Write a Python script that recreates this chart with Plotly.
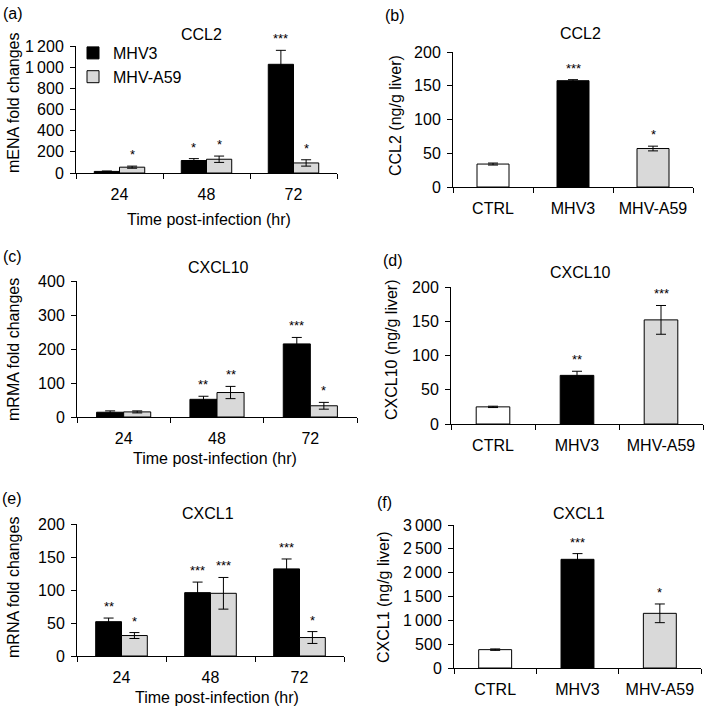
import plotly.graph_objects as go

# ---------------- data ----------------
TIMES = ["24", "48", "72"]
GROUPS = ["CTRL", "MHV3", "MHV-A59"]

# (a) CCL2 mRNA fold changes
CCL2_MRNA_MHV3 = [15, 118, 1027]
CCL2_MRNA_MHV3_ERR = [4, 18, 132]
CCL2_MRNA_MHV3_SIG = ["", "*", "***"]
CCL2_MRNA_A59 = [55, 130, 95]
CCL2_MRNA_A59_ERR = [10, 30, 30]
CCL2_MRNA_A59_SIG = ["*", "*", "*"]
CCL2_MRNA_TICKS = [0, 200, 400, 600, 800, 1000, 1200]
CCL2_MRNA_TICKTEXT = ["0", "200", "400", "600", "800", "1\u2009000", "1\u2009200"]

# (b) CCL2 protein
CCL2_PROT = [34, 157.5, 57]
CCL2_PROT_ERR = [1.5, 1.5, 3.5]
CCL2_PROT_SIG = ["", "***", "*"]
CCL2_PROT_TICKS = [0, 50, 100, 150, 200]

# (c) CXCL10 mRNA fold changes
CXCL10_MRNA_MHV3 = [14, 52, 215]
CXCL10_MRNA_MHV3_ERR = [4, 9, 19]
CXCL10_MRNA_MHV3_SIG = ["", "**", "***"]
CXCL10_MRNA_A59 = [15, 72, 33]
CXCL10_MRNA_A59_ERR = [3, 18, 10]
CXCL10_MRNA_A59_SIG = ["", "**", "*"]
CXCL10_MRNA_TICKS = [0, 100, 200, 300, 400]

# (d) CXCL10 protein
CXCL10_PROT = [25, 71, 152]
CXCL10_PROT_ERR = [1, 6, 21]
CXCL10_PROT_SIG = ["", "**", "***"]
CXCL10_PROT_TICKS = [0, 50, 100, 150, 200]

# (e) CXCL1 mRNA fold changes
CXCL1_MRNA_MHV3 = [52, 96, 132]
CXCL1_MRNA_MHV3_ERR = [5.5, 16, 15]
CXCL1_MRNA_MHV3_SIG = ["**", "***", "***"]
CXCL1_MRNA_A59 = [31, 95, 28]
CXCL1_MRNA_A59_ERR = [4.5, 24, 9]
CXCL1_MRNA_A59_SIG = ["*", "***", "*"]
CXCL1_MRNA_TICKS = [0, 50, 100, 150, 200]

# (f) CXCL1 protein
CXCL1_PROT = [385, 2280, 1147]
CXCL1_PROT_ERR = [15, 120, 196]
CXCL1_PROT_SIG = ["", "***", "*"]
CXCL1_PROT_TICKS = [0, 500, 1000, 1500, 2000, 2500, 3000]
CXCL1_PROT_TICKTEXT = ["0", "500", "1\u2009000", "1\u2009500", "2\u2009000", "2\u2009500", "3\u2009000"]

# ---------------- style ----------------
W = H = 709
BLACK = "#000000"
GRAY = "#d9d9d9"
WHITE = "#ffffff"
FONT = "Liberation Sans, Arial, sans-serif"
BARGAP = 0.42
SINGLE_W = 0.4


def fx(px):
    return px / W


def fy(py):
    return 1 - py / H


fig = go.Figure()

# panel boxes in pixels: (x0, x1, ytop, ybottom)
BOX = {
    1: (76, 337, 46, 173),
    2: (453, 693, 52, 187),
    3: (77, 357, 281, 417),
    4: (451, 703, 287, 424),
    5: (77, 344, 524, 656),
    6: (454, 701, 525, 668),
}

annotations = []


def ax_names(i):
    return ("x" if i == 1 else f"x{i}"), ("y" if i == 1 else f"y{i}")


def err(arr):
    return dict(type="data", array=arr, visible=True, color=BLACK, thickness=1, width=5)


def stars(i, xs, ys, es, sig):
    xr, yr = ax_names(i)
    for x, y, e, s in zip(xs, ys, es, sig):
        if s:
            annotations.append(dict(
                x=x, y=y + e, xref=xr, yref=yr, text=s, showarrow=False,
                yanchor="bottom", yshift=2, font=dict(size=13, color=BLACK, family=FONT)))


half = (1 - BARGAP) / 4.0


def grouped(i, v1, e1, s1, v2, e2, s2, legend):
    xr, yr = ax_names(i)
    fig.add_trace(go.Bar(x=TIMES, y=v1, name="MHV3", marker=dict(color=BLACK, line=dict(color=BLACK, width=1)),
                         error_y=err(e1), xaxis=xr, yaxis=yr, showlegend=legend, legendgroup="MHV3"))
    fig.add_trace(go.Bar(x=TIMES, y=v2, name="MHV-A59", marker=dict(color=GRAY, line=dict(color=BLACK, width=1)),
                         error_y=err(e2), xaxis=xr, yaxis=yr, showlegend=legend, legendgroup="A59"))
    idx = list(range(len(TIMES)))
    stars(i, [k - half for k in idx], v1, e1, s1)
    stars(i, [k + half for k in idx], v2, e2, s2)


def single(i, v, e, s):
    xr, yr = ax_names(i)
    fig.add_trace(go.Bar(x=GROUPS, y=v, width=SINGLE_W,
                         marker=dict(color=[WHITE, BLACK, GRAY], line=dict(color=BLACK, width=1)),
                         error_y=err(e), xaxis=xr, yaxis=yr, showlegend=False))
    stars(i, list(range(len(GROUPS))), v, e, s)


grouped(1, CCL2_MRNA_MHV3, CCL2_MRNA_MHV3_ERR, CCL2_MRNA_MHV3_SIG,
        CCL2_MRNA_A59, CCL2_MRNA_A59_ERR, CCL2_MRNA_A59_SIG, True)
single(2, CCL2_PROT, CCL2_PROT_ERR, CCL2_PROT_SIG)
grouped(3, CXCL10_MRNA_MHV3, CXCL10_MRNA_MHV3_ERR, CXCL10_MRNA_MHV3_SIG,
        CXCL10_MRNA_A59, CXCL10_MRNA_A59_ERR, CXCL10_MRNA_A59_SIG, False)
single(4, CXCL10_PROT, CXCL10_PROT_ERR, CXCL10_PROT_SIG)
grouped(5, CXCL1_MRNA_MHV3, CXCL1_MRNA_MHV3_ERR, CXCL1_MRNA_MHV3_SIG,
        CXCL1_MRNA_A59, CXCL1_MRNA_A59_ERR, CXCL1_MRNA_A59_SIG, False)
single(6, CXCL1_PROT, CXCL1_PROT_ERR, CXCL1_PROT_SIG)

YTICKS = {
    1: (CCL2_MRNA_TICKS, CCL2_MRNA_TICKTEXT),
    2: (CCL2_PROT_TICKS, [str(t) for t in CCL2_PROT_TICKS]),
    3: (CXCL10_MRNA_TICKS, [str(t) for t in CXCL10_MRNA_TICKS]),
    4: (CXCL10_PROT_TICKS, [str(t) for t in CXCL10_PROT_TICKS]),
    5: (CXCL1_MRNA_TICKS, [str(t) for t in CXCL1_MRNA_TICKS]),
    6: (CXCL1_PROT_TICKS, CXCL1_PROT_TICKTEXT),
}

layout_axes = {}
for i, (x0, x1, yt, yb) in BOX.items():
    xr, yr = ax_names(i)
    xkey = "xaxis" if i == 1 else f"xaxis{i}"
    ykey = "yaxis" if i == 1 else f"yaxis{i}"
    tv, tt = YTICKS[i]
    layout_axes[xkey] = dict(
        domain=[fx(x0), fx(x1)], anchor=yr, type="category", automargin=False,
        showline=True, linecolor=BLACK, linewidth=1, mirror=False,
        ticks="outside", tickson="boundaries", ticklen=5, tickcolor=BLACK, tickwidth=1,
        showgrid=False, zeroline=False, ticklabelstandoff=7,
        tickfont=dict(size=16, color=BLACK, family=FONT), fixedrange=True)
    layout_axes[ykey] = dict(
        domain=[fy(yb), fy(yt)], anchor=xr, range=[0, tv[-1]], automargin=False,
        tickmode="array", tickvals=tv, ticktext=tt,
        showline=True, linecolor=BLACK, linewidth=1,
        ticks="outside", ticklen=5, tickcolor=BLACK, tickwidth=1, ticklabelstandoff=3,
        showgrid=False, zeroline=False,
        tickfont=dict(size=16, color=BLACK, family=FONT), fixedrange=True)


def txt(x, y, s, size=16, angle=0):
    annotations.append(dict(x=fx(x), y=fy(y), xref="paper", yref="paper", text=s,
                            showarrow=False, xanchor="center", yanchor="middle", textangle=angle,
                            font=dict(size=size, color=BLACK, family=FONT)))


# panel labels
txt(13, 14, "(a)")
txt(395, 16, "(b)")
txt(12, 256, "(c)")
txt(393, 260, "(d)")
txt(12, 498, "(e)")
txt(384, 502, "(f)")
# titles
txt(201, 34, "CCL2")
txt(580, 33, "CCL2")
txt(218, 267, "CXCL10")
txt(580, 272, "CXCL10")
txt(208, 513, "CXCL1")
txt(579, 513, "CXCL1")
# y titles
txt(13, 103, "mENA fold changes", angle=-90)
txt(396, 116, "CCL2 (ng/g liver)", angle=-90)
txt(13, 350, "mRMA fold changes", angle=-90)
txt(391, 350, "CXCL10 (ng/g liver)", angle=-90)
txt(13, 588, "mRNA fold changes", angle=-90)
txt(383, 597, "CXCL1 (ng/g liver)", angle=-90)
# x titles
txt(209, 220, "Time post-infection (hr)")
txt(215, 458, "Time post-infection (hr)")
txt(217, 697, "Time post-infection (hr)")

fig.update_layout(
    template="none",
    width=W, height=H, autosize=False,
    margin=dict(l=0, r=0, t=0, b=0, autoexpand=False),
    paper_bgcolor="white", plot_bgcolor="white",
    barmode="group", bargap=BARGAP, bargroupgap=0,
    font=dict(family=FONT, color=BLACK),
    showlegend=True,
    legend=dict(x=fx(73), y=fy(36), xanchor="left", yanchor="top",
                bgcolor="rgba(0,0,0,0)", font=dict(size=16, color=BLACK, family=FONT),
                itemwidth=30, tracegroupgap=0),
    annotations=annotations,
    **layout_axes,
)

fig.write_html(
    "out.html",
    config={"displayModeBar": False},
    post_script="document.body.style.margin='0';document.body.style.overflow='hidden';",
)
